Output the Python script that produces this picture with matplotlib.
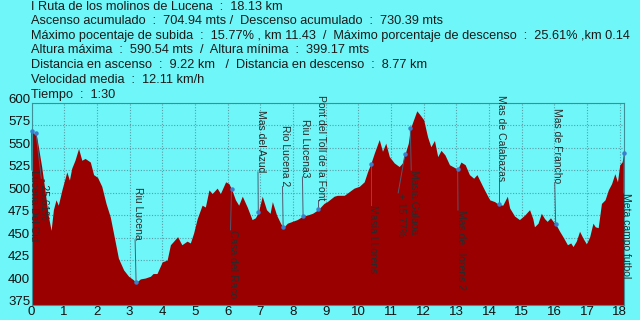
import matplotlib
matplotlib.use("Agg")
import matplotlib.pyplot as plt
from matplotlib.transforms import ScaledTranslation

plt.rcParams['font.family'] = ['Liberation Sans', 'DejaVu Sans']

km = [0.0, 0.06, 0.14, 0.21, 0.31, 0.41, 0.52, 0.6, 0.67, 0.75, 0.82, 0.93, 1.08, 1.16, 1.23,
      1.33, 1.44, 1.54, 1.64, 1.8, 1.9, 2.02, 2.15, 2.28, 2.41, 2.53, 2.66, 2.82, 2.97, 3.12,
      3.2, 3.33, 3.48, 3.64, 3.72, 3.84, 4.0, 4.15, 4.25, 4.35, 4.47, 4.6, 4.76, 4.86, 4.96,
      5.07, 5.22, 5.32, 5.43, 5.53, 5.68, 5.78, 5.94, 6.04, 6.12, 6.24, 6.34, 6.45, 6.6,
      6.75, 6.85, 6.94, 7.06, 7.19, 7.3, 7.37, 7.5, 7.62, 7.7, 7.83, 7.98, 8.13, 8.31, 8.44,
      8.6, 8.77, 8.95, 9.05, 9.26, 9.36, 9.57, 9.72, 9.87, 10.03, 10.18, 10.28, 10.38, 10.49,
      10.64, 10.74, 10.84, 10.95, 11.1, 11.25, 11.35, 11.43, 11.53, 11.59, 11.69, 11.79, 11.9,
      12.0, 12.12, 12.22, 12.33, 12.43, 12.53, 12.65, 12.79, 12.89, 13.04, 13.14, 13.27, 13.4,
      13.53, 13.63, 13.71, 13.86, 14.02, 14.17, 14.29, 14.42, 14.56, 14.63, 14.78, 14.93,
      15.09, 15.24, 15.34, 15.39, 15.5, 15.6, 15.7, 15.78, 15.88, 15.96, 16.04, 16.16, 16.26,
      16.4, 16.5, 16.57, 16.67, 16.77, 16.88, 16.98, 17.08, 17.18, 17.25, 17.34, 17.44, 17.55,
      17.65, 17.75, 17.85, 17.93, 18.0, 18.07, 18.13]
elev = [569, 566, 566, 551, 529, 503, 473, 458, 481, 492, 486, 503, 523, 514, 527,
        536, 549, 536, 538, 534, 520, 517, 507, 488, 473, 451, 427, 414, 407, 403,
        400, 404, 405, 407, 410, 410, 423, 425, 442, 446, 451, 442, 446, 444, 455,
        471, 486, 484, 503, 499, 505, 499, 512, 510, 504, 492, 486, 496, 484,
        470, 472, 478, 496, 481, 477, 490, 475, 466, 461, 466, 468, 470, 474, 475,
        477, 481, 488, 490, 496, 497, 497, 501, 505, 507, 512, 523, 532, 544,
        559, 546, 555, 540, 533, 529, 533, 543, 555, 571, 581, 591, 586,
        581, 562, 551, 558, 540, 547, 542, 531, 529, 526, 534, 531, 520,
        516, 520, 514, 503, 492, 490, 487, 486, 496, 483, 474, 470,
        475, 481, 471, 462, 466, 477, 471, 468, 472, 468, 465, 457, 451,
        442, 444, 440, 446, 457, 449, 443, 451, 466, 462, 461, 488, 492,
        503, 510, 521, 512, 531, 534, 544]

wp_names = ["Lucena Del Cid", "- 25.61%", "Riu Lucena", "Casa del Raco", "Mas del Azud",
            "Rio Lucena 2", "Riu Lucena3", "Pont del Toll de la Font", "Masia LLorens",
            "+ 15.77%", "Masia Galaoa", "Mas de Llorens 2", "Mas de Calabazas",
            "Mas de Francho", "Meta campo futbol"]
wp_km = [0.0, 0.14, 3.2, 6.12, 6.94, 7.7, 8.31, 8.77, 10.38, 11.43, 11.59, 13.04, 14.29, 16.04, 18.13]
wp_elev = [568, 566, 401, 504, 478, 461.5, 474, 481.5, 532, 543, 571.5, 526, 487.4, 465, 544.4]
lbl_km = [0.09, 0.38, 3.25, 6.17, 7.01, 7.76, 8.37, 8.85, 10.46, 11.3, 11.7, 13.13, 14.37, 16.09, 18.2]
lbl_elev = [525, 516, 447.5, 458.6, 523, 506.7, 517.4, 492, 486.3, 499.7, 525, 480.6, 513.3, 510.8, 499.7]
lbl_below = [True, True, False, True, False, False, False, False, True, True, True, True, False, False, True]

header = ["I Ruta de los molinos de Lucena  :  18.13 km",
          "Ascenso acumulado  :  704.94 mts /  Descenso acumulado  :  730.39 mts",
          "Máximo pocentaje de subida  :  15.77% , km 11.43  /  Máximo porcentaje de descenso  :  25.61% ,km 0.14",
          "Altura máxima  :  590.54 mts  /  Altura mínima  :  399.17 mts",
          "Distancia en ascenso  :  9.22 km   /  Distancia en descenso  :  8.77 km",
          "Velocidad media  :  12.11 km/h",
          "Tiempo  :  1:30"]

bg = '#6ff6f8'
fig = plt.figure(figsize=(6.4, 3.2), dpi=100, facecolor=bg)
ax = fig.add_axes([31.5/640, 1-305/320, (624-31.5)/640, (305-102.7)/320])
ax.set_facecolor(bg)
ax.fill_between(km, elev, 375, color='#9b0000', lw=0, zorder=2)
ax.set_xlim(0, 18.13)
ax.set_ylim(375, 600)
ax.set_xticks(range(0, 19))
ax.set_yticks(range(375, 601, 25))
ax.grid(True, color='#5a9ea8', linestyle=(0, (1, 1.5)), linewidth=0.8, zorder=1)
ax.tick_params(axis='x', length=0, labelsize=9.5, colors='#111111', pad=0.5)
ax.tick_params(axis='y', length=0, labelsize=9.5, colors='#111111', pad=1)
up = ScaledTranslation(0, 4.5/100, fig.dpi_scale_trans)
for lab in ax.get_yticklabels():
    lab.set_transform(lab.get_transform() + up)
for s in ax.spines.values():
    s.set_color('#3f8f98')
    s.set_linewidth(0.8)

for n, mk, me, tk, te, below in zip(wp_names, wp_km, wp_elev, lbl_km, lbl_elev, lbl_below):
    ax.plot([mk, tk - 0.08], [me, te], color='#505a70', lw=0.7, zorder=3, clip_on=False)
    ax.plot([mk], [me], marker='o', ms=2.2, color='#3b7fd0', zorder=4, clip_on=False)
    ax.text(tk, te, n, rotation=270, ha='center', va='top' if below else 'bottom',
            fontsize=7.5, color='#2a2a2a', zorder=5, clip_on=False)

ys = [7, 21.5, 35.5, 50, 65, 80, 95]
for t, y in zip(header, ys):
    fig.text(31/640, 1 - y/320, t, ha='left', va='center', fontsize=9.2, color='#1a1a1a')

fig.savefig('out.png', dpi=100, facecolor=bg)
